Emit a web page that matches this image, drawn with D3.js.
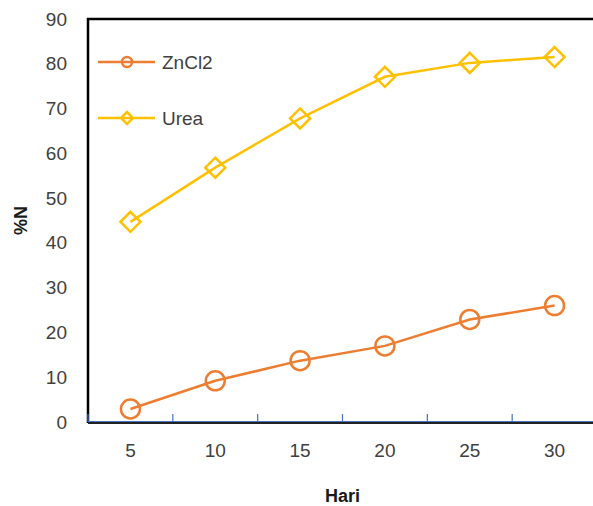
<!DOCTYPE html>
<html><head><meta charset="utf-8">
<script src="https://cdn.jsdelivr.net/npm/d3@7/dist/d3.min.js"></script>
<style>body{margin:0;background:#fff;overflow:hidden}svg{display:block}</style>
</head><body>
<script>
const categories = ["5","10","15","20","25","30"];
const znCl2 = [2.9, 9.2, 13.7, 17.0, 22.9, 26.0];
const urea = [44.7, 56.8, 67.8, 77.1, 80.2, 81.5];
const yTicks = [0,10,20,30,40,50,60,70,80,90];
const seriesNames = ["ZnCl2","Urea"];
const colors = ["#ED7D31","#FFC000"];

(function () {
const W = 593, H = 506;
const svg = d3.select("body").append("svg").attr("width", W).attr("height", H);
const font = "'Liberation Sans', Arial, sans-serif";
const pl = 88, pr = 597, pt = 19, pb = 422;

const x = d3.scaleBand().domain(categories).range([pl, pr]).padding(0);
const y = d3.scaleLinear().domain([0, 90]).range([pb, pt]);

const ya = svg.append("g").attr("transform", `translate(${pl},0)`)
  .call(d3.axisLeft(y).tickValues(yTicks).tickSize(0).tickPadding(21).tickFormat(d3.format("d")));
ya.select(".domain").remove();
ya.selectAll("text").attr("font-family", font).attr("font-size", 19).attr("fill", "#404040");

const xa = svg.append("g").attr("transform", `translate(0,${pb})`)
  .call(d3.axisBottom(x).tickSize(0).tickPadding(22));
xa.select(".domain").remove();
xa.selectAll("text").attr("font-family", font).attr("font-size", 19).attr("fill", "#404040");

svg.append("line").attr("x1", pl).attr("x2", pl).attr("y1", pt - 1).attr("y2", pb + 1)
  .attr("stroke", "#000").attr("stroke-width", 2.5);
svg.append("line").attr("x1", pl - 1).attr("x2", W).attr("y1", pt).attr("y2", pt)
  .attr("stroke", "#000").attr("stroke-width", 2.5);
svg.append("line").attr("x1", pl).attr("x2", W).attr("y1", pb + 1).attr("y2", pb + 1)
  .attr("stroke", "#222").attr("stroke-width", 2);
svg.append("line").attr("x1", pl).attr("x2", W).attr("y1", pb - 0.5).attr("y2", pb - 0.5)
  .attr("stroke", "#4472C4").attr("stroke-width", 1);
svg.append("g").selectAll("line").data(categories).join("line")
  .attr("x1", d => x(d)).attr("x2", d => x(d))
  .attr("y1", pb).attr("y2", pb - 8)
  .attr("stroke", "#4472C4").attr("stroke-width", 1.2);

svg.append("text").attr("x", (pl + pr) / 2).attr("y", 502)
  .attr("text-anchor", "middle").attr("font-family", font).attr("font-weight", "bold")
  .attr("font-size", 18).attr("fill", "#1a1a1a").text("Hari");
svg.append("text").attr("transform", `translate(27,${(pt + pb) / 2}) rotate(-90)`)
  .attr("text-anchor", "middle").attr("font-family", font).attr("font-weight", "bold")
  .attr("font-size", 18).attr("fill", "#1a1a1a").text("%N");

const line = d3.line().x((d, i) => x(categories[i]) + x.bandwidth() / 2).y(d => y(d));
const data = [znCl2, urea];

function marker(g, type, cx, cy, s, color) {
  if (type === 0) {
    g.append("circle").attr("cx", cx).attr("cy", cy).attr("r", s)
      .attr("fill", "none").attr("stroke", color).attr("stroke-width", 2.5);
  } else {
    g.append("path").attr("d", `M${cx},${cy - s}L${cx + s},${cy}L${cx},${cy + s}L${cx - s},${cy}Z`)
      .attr("fill", "none").attr("stroke", color).attr("stroke-width", 2.5);
  }
}

data.forEach((vals, k) => {
  const g = svg.append("g");
  g.append("path").datum(vals).attr("d", line).attr("fill", "none")
    .attr("stroke", colors[k]).attr("stroke-width", 2.5);
  vals.forEach((v, i) => marker(g, k, x(categories[i]) + x.bandwidth() / 2, y(v), k === 0 ? 9.5 : 10, colors[k]));
});

const legY = [62, 118];
seriesNames.forEach((n, k) => {
  const g = svg.append("g");
  g.append("line").attr("x1", 98).attr("x2", 155).attr("y1", legY[k]).attr("y2", legY[k])
    .attr("stroke", colors[k]).attr("stroke-width", 2.5);
  marker(g, k, 127, legY[k], k === 0 ? 5 : 6, colors[k]);
  g.append("text").attr("x", 162).attr("y", legY[k]).attr("dy", "0.35em")
    .attr("font-family", font).attr("font-size", 19).attr("fill", "#404040").text(n);
});
})();
</script>
</body></html>
